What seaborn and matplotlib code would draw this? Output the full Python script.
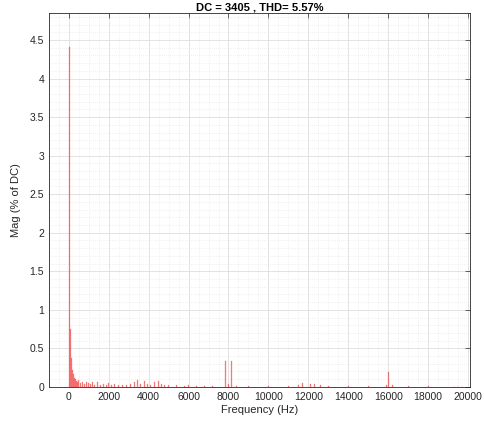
import numpy as np
import pandas as pd
import matplotlib
matplotlib.use("Agg")
import matplotlib.pyplot as plt
import seaborn as sns
from matplotlib.ticker import MultipleLocator

# Spectrum components: frequency (Hz) and magnitude (% of DC)
freq_hz = [50, 100, 150, 200, 250, 300, 350, 400, 450, 500,
           600, 700, 800, 900, 1000, 1100, 1200, 1300, 1450, 1600,
           1750, 1900, 2000, 2150, 2300, 2500, 2700, 2900, 3100, 3300,
           3450, 3600, 3800, 3950, 4100, 4300, 4500, 4650, 4800, 5000,
           5400, 5800, 6000, 6400, 6800, 7200, 7850, 8000, 8150, 8400,
           9000, 10000, 11000, 11500, 11700, 12100, 12300, 12600, 13000, 14000,
           15000, 15900, 16000, 16200, 17000, 18000, 19300, 19500, 19700]
mag_pct = [4.41, 0.75, 0.37, 0.22, 0.17, 0.12, 0.10, 0.08, 0.06, 0.09,
           0.05, 0.06, 0.04, 0.07, 0.05, 0.04, 0.06, 0.03, 0.07, 0.03,
           0.04, 0.03, 0.05, 0.03, 0.04, 0.03, 0.02, 0.03, 0.04, 0.07,
           0.09, 0.04, 0.08, 0.04, 0.03, 0.07, 0.08, 0.04, 0.02, 0.02,
           0.02, 0.01, 0.03, 0.01, 0.01, 0.01, 0.34, 0.04, 0.33, 0.01,
           0.01, 0.01, 0.01, 0.03, 0.05, 0.04, 0.04, 0.02, 0.01, 0.01,
           0.01, 0.03, 0.19, 0.02, 0.01, 0.01, 0.01, 0.02, 0.01]

dc_value = 3405
thd_pct = 5.57

df = pd.DataFrame({"Frequency": freq_hz, "Mag": mag_pct})

sns.set_style("white")
plt.rcParams["font.family"] = ["Liberation Sans", "DejaVu Sans"]

fig = plt.figure(figsize=(4.84, 4.21), dpi=100)
ax = fig.add_axes([0.101, 0.081, 0.870, 0.888])

sns.barplot(data=df, x="Frequency", y="Mag", native_scale=True,
            color="#ff2020", width=0.9, linewidth=0.25, edgecolor="#ff4040",
            alpha=0.6, ax=ax)

ax.set_xlim(-1000, 20100)
ax.set_ylim(0, 4.85)
ax.xaxis.set_minor_locator(MultipleLocator(500))
ax.yaxis.set_minor_locator(MultipleLocator(0.1))
ax.set_yticks(np.arange(0, 4.51, 0.5))
ax.set_yticklabels(["0", "0.5", "1", "1.5", "2", "2.5", "3", "3.5", "4", "4.5"])
ax.set_xticks(np.arange(0, 20001, 2000))
ax.set_xticklabels([str(v) for v in range(0, 20001, 2000)])

ax.grid(True, which="major", color="#dedede", linewidth=0.6)
ax.grid(True, which="minor", color="#e2e2e2", linewidth=0.5, linestyle=(0, (1, 2)))
ax.set_axisbelow(True)

for s in ax.spines.values():
    s.set_color("#262626")
    s.set_linewidth(0.6)
ax.tick_params(axis="both", which="both", direction="in", top=True, right=True,
               colors="#262626", labelsize=7.5, width=0.5)
ax.tick_params(which="major", length=3.5)
ax.tick_params(which="minor", length=0)

ax.set_xlabel("Frequency (Hz)", fontsize=8, color="#262626", labelpad=2)
ax.set_ylabel("Mag (% of DC)", fontsize=8, color="#262626", labelpad=6)
ax.set_title(f"DC = {dc_value} , THD= {thd_pct:.2f}%", fontsize=8,
             fontweight="bold", color="black", pad=2)

fig.savefig("out.png", dpi=100)
